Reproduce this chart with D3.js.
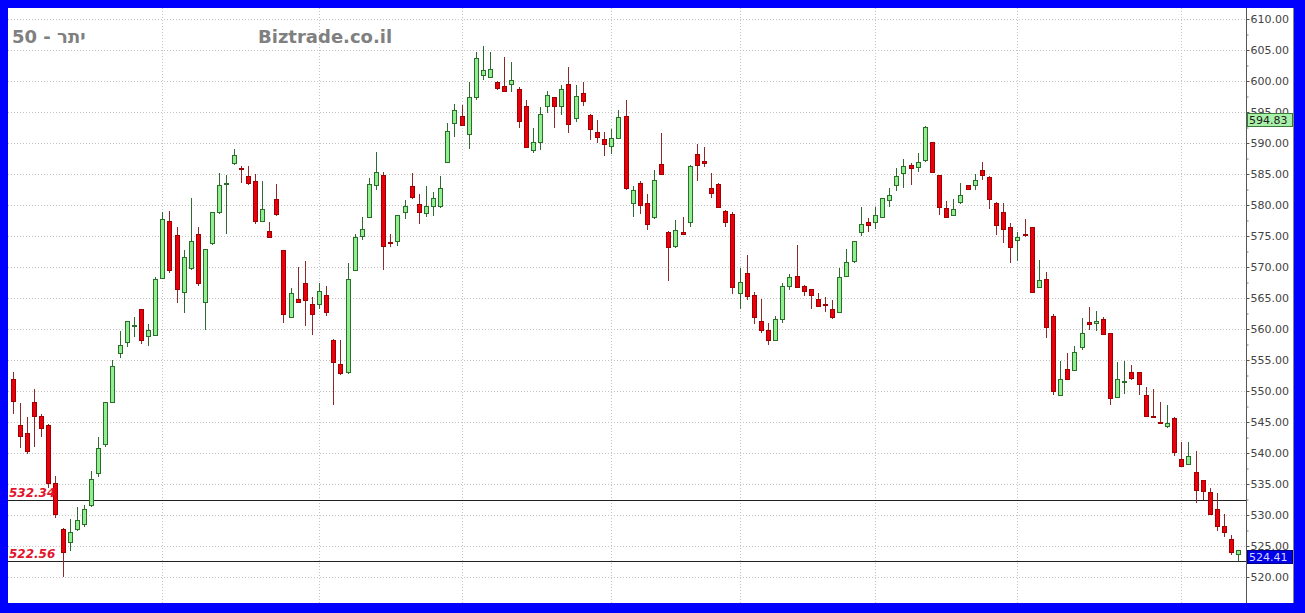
<!DOCTYPE html>
<html><head><meta charset="utf-8">
<script src="https://cdn.jsdelivr.net/npm/d3@7/dist/d3.min.js"></script>
<style>html,body{margin:0;padding:0;background:#0000ff;overflow:hidden}svg{display:block}</style>
</head><body>
<svg id="chart" width="1305" height="613"></svg>
<script>
// ---- data ----
const openV = [551.9,544.5,543.2,548.3,545.9,544.5,535.1,527.7,525.7,527.7,528.5,531.6,536.7,541.4,548.2,556.2,557.9,560.5,563.2,558.9,
559.0,568.3,577.4,575.2,566.0,569.8,575.3,564.3,573.8,578.9,583.4,586.8,586.0,584.7,583.9,577.5,575.8,580.9,572.7,562.0,
564.8,567.5,564.0,564.0,565.5,558.3,554.4,553.0,569.5,575.0,578.1,583.2,584.8,574.1,574.2,578.8,583.1,580.2,578.7,579.9,
579.8,586.9,593.3,594.4,591.4,597.4,601.0,600.7,599.9,599.2,599.5,598.7,596.0,588.9,590.1,596.0,597.4,596.0,599.5,594.0,
598.1,594.5,591.7,590.6,589.5,590.8,594.4,580.4,583.5,580.3,578.0,586.6,575.7,573.4,575.7,577.3,588.2,587.1,582.7,583.4,
579.1,578.5,565.8,569.0,565.5,561.3,559.9,558.3,561.6,567.0,568.5,567.0,566.4,564.8,564.1,563.3,562.7,568.5,570.9,575.7,
577.2,577.3,578.0,580.8,583.2,585.1,586.5,586.2,587.3,590.1,584.8,579.5,578.4,580.5,583.2,583.2,585.6,584.5,580.4,578.9,
576.5,574.4,575.3,576.4,566.8,568.0,562.1,549.4,553.5,553.4,557.1,561.2,560.9,561.6,559.3,549.1,551.5,553.0,553.0,549.4,
546.0,545.0,544.4,545.7,539.0,538.2,536.9,535.6,533.7,530.9,528.3,526.1,523.7];
const highV = [553.0,548.0,545.8,550.3,546.3,544.7,536.3,527.9,529.3,531.3,531.6,537.1,542.6,548.3,555.0,559.7,561.3,562.0,563.3,560.8,
568.4,578.9,579.0,576.4,572.7,581.1,576.4,572.9,578.8,585.1,584.8,589.0,586.3,586.3,585.0,583.8,577.2,583.4,572.8,566.6,
570.0,571.0,565.2,567.5,567.0,558.4,558.3,570.7,575.4,578.1,584.3,588.6,585.3,575.4,578.4,580.8,585.1,581.8,583.0,582.1,
584.6,593.3,596.3,596.1,599.8,604.7,605.6,604.6,600.0,603.8,603.0,599.0,596.9,592.4,595.8,598.4,597.5,599.4,602.2,599.4,
599.9,594.6,593.7,591.7,592.2,595.4,596.9,583.1,583.9,581.8,585.6,591.6,575.8,577.6,578.0,586.4,589.8,589.3,585.2,583.5,
579.2,578.9,569.8,571.9,566.0,564.8,561.0,562.1,567.5,568.9,573.5,567.1,566.5,565.8,565.1,564.7,569.8,572.9,574.2,579.6,
577.9,579.6,581.1,582.7,585.9,587.5,586.8,588.4,592.7,590.2,584.9,580.7,580.9,583.6,583.3,585.0,587.0,584.6,580.5,580.4,
577.1,575.7,577.7,576.5,571.2,569.2,562.5,554.8,556.2,557.3,561.7,563.5,562.9,562.0,559.4,554.7,554.8,554.2,553.1,550.7,
550.3,548.3,547.7,545.8,541.7,541.7,540.3,535.7,534.3,533.5,530.2,526.8,524.41];
const lowV = [546.3,540.8,539.8,540.9,542.6,534.3,529.5,520.0,524.2,527.5,528.1,531.3,536.1,541.0,548.0,555.3,557.1,558.7,557.6,557.3,
558.8,568.0,569.0,564.2,562.6,569.5,567.0,559.8,573.5,578.5,575.4,586.5,583.6,583.3,576.9,577.3,574.6,578.3,560.9,561.8,
564.2,560.5,559.0,563.3,562.1,547.7,552.6,552.8,569.3,574.4,578.0,582.4,569.5,573.3,573.4,577.7,581.0,576.9,578.1,578.3,
579.5,586.7,591.0,592.8,589.1,597.0,600.2,600.5,598.5,598.3,598.3,592.5,589.3,588.4,588.9,594.8,592.5,594.5,591.6,593.4,
595.9,590.5,590.0,587.9,588.3,590.6,582.4,578.0,578.5,575.9,577.8,584.8,567.8,573.0,575.2,576.5,583.8,586.2,581.2,579.6,
576.4,565.6,563.3,564.6,560.8,559.4,557.4,558.2,560.9,566.3,566.8,565.4,563.3,563.6,562.8,561.6,562.6,568.4,570.7,575.0,
575.7,576.1,578.0,579.7,582.3,582.8,583.2,585.3,587.0,585.1,578.4,577.9,578.3,580.1,582.4,582.4,584.0,579.3,575.2,573.9,
570.6,570.9,574.8,565.8,566.7,558.5,549.4,549.3,551.8,553.3,556.6,559.8,559.7,559.1,547.7,549.0,549.5,551.8,549.4,545.9,
545.8,544.9,544.0,539.5,537.8,538.0,532.0,532.4,530.0,527.5,526.5,523.5,522.6];
const closeV = [548.4,542.7,540.4,546.0,544.0,535.1,530.1,524.1,527.2,529.2,530.9,535.8,540.8,548.3,554.0,557.4,561.3,560.7,558.3,559.8,
568.1,577.7,569.5,566.4,571.6,574.2,567.5,572.9,578.8,583.2,583.6,588.0,585.8,583.5,577.4,579.3,574.8,578.5,562.4,565.8,
564.3,564.7,562.4,566.2,562.7,554.6,552.9,568.0,574.9,576.2,583.4,585.4,573.4,573.9,578.4,579.9,581.3,578.8,579.9,581.2,
582.7,591.9,595.4,592.9,597.4,603.7,601.8,602.0,598.9,598.4,600.2,593.6,589.4,590.1,594.7,597.7,595.9,598.7,593.1,597.5,
596.7,592.2,590.9,589.8,590.8,594.2,582.7,582.4,580.0,576.9,584.0,585.0,573.3,575.9,575.4,586.3,586.5,586.7,582.0,579.7,
577.3,566.7,567.6,565.3,561.9,559.9,558.2,561.6,567.0,568.4,566.8,566.2,565.5,563.7,563.9,561.9,568.4,570.8,574.2,577.0,
576.8,578.4,581.1,581.6,584.6,586.3,585.9,587.0,592.6,585.4,579.6,578.0,579.3,581.6,582.6,584.1,584.8,580.9,576.7,576.1,
573.3,574.8,575.1,565.9,567.9,560.4,550.0,551.9,551.9,556.3,559.3,560.8,561.3,559.2,548.8,552.0,551.6,552.1,551.1,546.0,
545.9,544.95,544.9,540.2,537.9,539.5,534.0,533.8,530.1,528.2,527.3,524.1,524.41];
const dayIndex = openV.map((d, i) => i);
const monthStarts = [21, 43, 63, 84, 102, 121, 141, 164];
const yTicks = d3.range(520, 611, 5);
const yMinorTicks = d3.range(522.5, 610, 5);
const refLevels = [532.34, 522.56];
const lastClose = 524.41;
const markerValue = 594.83;
const titleText = "יתר - 50";
const siteText = "Biztrade.co.il";

// ---- drawing ----
const svg = d3.select("#chart");
const P = {left: 8, top: 8, right: 1246, bottom: 603};

svg.append("rect").attr("width", 1305).attr("height", 613).attr("fill", "#0000ff");
svg.append("rect").attr("x", P.left).attr("y", P.top).attr("width", 1294 - P.left).attr("height", P.bottom - P.top).attr("fill", "#ffffff");

const x = d3.scalePoint().domain(dayIndex).range([12.7, 1238.3]);
const y = d3.scaleLinear().domain([520, 610]).range([577, 19]);
const px = v => Math.round(v) + 0.5;

// grid
const grid = svg.append("g").attr("stroke", "#c4c4c4").attr("stroke-dasharray", "1,2").attr("stroke-width", 1);
grid.selectAll("line.h").data(yTicks).join("line")
  .attr("x1", P.left).attr("x2", P.right).attr("y1", d => px(y(d))).attr("y2", d => px(y(d)));
grid.selectAll("line.v").data(monthStarts).join("line")
  .attr("y1", P.top).attr("y2", P.bottom).attr("x1", d => px(x(d))).attr("x2", d => px(x(d)));

// reference lines
svg.append("g").selectAll("line").data(refLevels).join("line")
  .attr("x1", P.left).attr("x2", P.right)
  .attr("y1", d => px(y(d))).attr("y2", d => px(y(d)))
  .attr("stroke", "#222").attr("stroke-width", 1);

// candles
const candles = dayIndex.map(i => ({i, o: openV[i], h: highV[i], l: lowV[i], c: closeV[i]}));
const cg = svg.append("g").attr("shape-rendering", "crispEdges");
const up = d => d.c >= d.o;
cg.selectAll("line").data(candles).join("line")
  .attr("x1", d => px(x(d.i))).attr("x2", d => px(x(d.i)))
  .attr("y1", d => y(d.h)).attr("y2", d => y(d.l))
  .attr("stroke", d => up(d) ? "#2f6b2f" : "#8a2a2a").attr("stroke-width", 1);
cg.selectAll("rect").data(candles).join("rect")
  .attr("x", d => Math.round(x(d.i)) - 2 + 0.5)
  .attr("width", 4)
  .attr("y", d => Math.round(y(Math.max(d.o, d.c))) + 0.5)
  .attr("height", d => Math.max(1, Math.round(y(Math.min(d.o, d.c))) - Math.round(y(Math.max(d.o, d.c)))))
  .attr("fill", d => up(d) ? "#90ee90" : "#e8000d")
  .attr("stroke", d => up(d) ? "#2a6e2a" : "#a00000").attr("stroke-width", 1);

// reference labels
svg.append("g").selectAll("text").data(refLevels).join("text")
  .attr("x", 9).attr("y", d => y(d) - 3)
  .attr("fill", "#e0142c").attr("font-family", "DejaVu Sans").attr("font-weight", "bold")
  .attr("font-style", "italic").attr("font-size", 12)
  .text(d => d3.format(".2f")(d));

// axis
svg.append("line").attr("x1", P.right + 0.5).attr("x2", P.right + 0.5).attr("y1", P.top).attr("y2", P.bottom).attr("stroke", "#555");
svg.append("line").attr("x1", 1293.5).attr("x2", 1293.5).attr("y1", P.top).attr("y2", P.bottom).attr("stroke", "#888");
const ax = svg.append("g").attr("transform", `translate(${P.right + 0.5},0)`)
  .call(d3.axisRight(y).tickValues(yTicks).tickFormat(d3.format(".2f")).tickSize(3).tickPadding(1));
ax.select(".domain").remove();
ax.selectAll("line").attr("stroke", "#555");
ax.selectAll("text").attr("fill", "#444").attr("font-family", "DejaVu Sans").attr("font-size", 11);
const axm = svg.append("g").attr("transform", `translate(${P.right + 0.5},0)`)
  .call(d3.axisRight(y).tickValues(yMinorTicks).tickFormat("").tickSize(2));
axm.select(".domain").remove();
axm.selectAll("line").attr("stroke", "#777");

// value boxes
function valueBox(v, fill, stroke, color) {
  const g = svg.append("g");
  g.append("rect").attr("x", P.right + 1.5).attr("y", Math.round(y(v)) + 0.5).attr("width", 45).attr("height", 13)
    .attr("fill", fill).attr("stroke", stroke);
  g.append("text").attr("x", P.right + 3).attr("y", Math.round(y(v)) + 11)
    .attr("fill", color).attr("font-family", "DejaVu Sans").attr("font-size", 11).text(d3.format(".2f")(v));
}
valueBox(markerValue, "#a8f0a8", "#3a7a3a", "#222");
valueBox(lastClose, "#0000e8", "#000080", "#d8d8ff");

// titles
svg.append("text").attr("x", 12).attr("y", 43).attr("fill", "#808080").attr("font-family", "DejaVu Sans")
  .attr("font-weight", "bold").attr("font-size", 18).text(titleText);
svg.append("text").attr("x", 258).attr("y", 43).attr("fill", "#808080").attr("font-family", "DejaVu Sans")
  .attr("font-weight", "bold").attr("font-size", 18).text(siteText);
</script>
</body></html>
